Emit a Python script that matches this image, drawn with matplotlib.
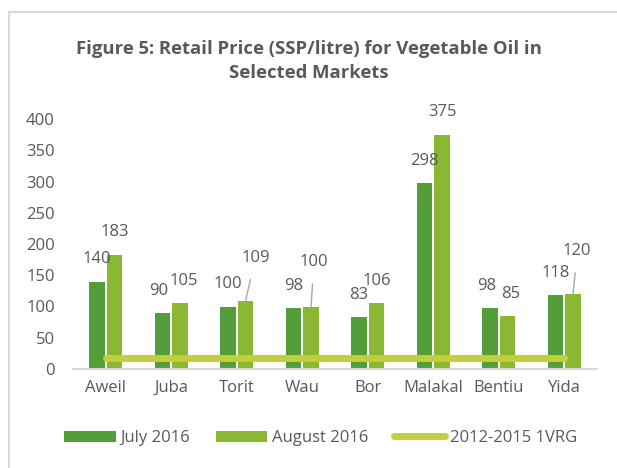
import numpy as np
import matplotlib.pyplot as plt
from matplotlib.patches import Rectangle

markets = ["Aweil", "Juba", "Torit", "Wau", "Bor", "Malakal", "Bentiu", "Yida"]
july_2016 = [140, 90, 100, 98, 83, 298, 98, 118]
august_2016 = [183, 105, 109, 100, 106, 375, 85, 120]
vrg_2012_2015 = [17, 17, 17, 17, 17, 17, 17, 17]
y_ticks = [0, 50, 100, 150, 200, 250, 300, 350, 400]

# label offsets in points (dx, dy); August ones with leader lines are marked
july_offsets = {1: (-3, 16), 6: (-2, 16)}
aug_offsets = {1: (3, 16), 6: (2, 16)}
aug_leaders = {2: (7, 31), 3: (2, 32), 7: (3, 31)}

GRAY = "#595959"
C_JULY = "#549E39"
C_AUG = "#8AB833"
C_VRG = "#C0CF3A"

plt.rcParams['font.family'] = ['Open Sans', 'DejaVu Sans']

fig = plt.figure(figsize=(6.17, 4.68), dpi=100)
ax = fig.add_axes([73 / 617, 1 - 369 / 468, 524 / 617, 250 / 468])

fig.patches.append(Rectangle((9 / 617, -0.1), 1.2, 1 - 12 / 468 + 0.1,
                             transform=fig.transFigure, fill=False,
                             edgecolor="#D9D9D9", linewidth=1.5))

x = np.arange(len(markets))
w = 0.235
off = 0.135
b1 = ax.bar(x - off, july_2016, w, color=C_JULY, label="July 2016", zorder=2)
b2 = ax.bar(x + off, august_2016, w, color=C_AUG, label="August 2016", zorder=2)
ax.plot(x, vrg_2012_2015, color=C_VRG, linewidth=5, solid_capstyle="round",
        label="2012-2015 1VRG", zorder=3)

lbl_size = 12
for i, v in enumerate(july_2016):
    ax.annotate(str(v), (x[i] - off, v), xytext=july_offsets.get(i, (0, 16)),
                textcoords="offset points", ha="center", va="center",
                fontsize=lbl_size, color=GRAY)
for i, v in enumerate(august_2016):
    if i in aug_leaders:
        ax.annotate(str(v), (x[i] + off, v), xytext=aug_leaders[i], textcoords="offset points",
                    ha="center", va="center", fontsize=lbl_size, color=GRAY,
                    arrowprops=dict(arrowstyle="-", color="#A6A6A6", lw=1,
                                    shrinkA=8, shrinkB=0))
    else:
        ax.annotate(str(v), (x[i] + off, v), xytext=aug_offsets.get(i, (0, 16)),
                    textcoords="offset points", ha="center", va="center",
                    fontsize=lbl_size, color=GRAY)

ax.set_xlim(-0.5, len(markets) - 0.5)
ax.set_ylim(0, 400)
ax.set_yticks(y_ticks)
ax.set_xticks(x)
ax.set_xticklabels(markets)
ax.tick_params(axis="both", length=0, labelsize=12, labelcolor=GRAY)
ax.tick_params(axis="x", pad=8)
ax.tick_params(axis="y", pad=13)
for s in ["top", "right", "left"]:
    ax.spines[s].set_visible(False)
ax.spines["bottom"].set_color("#D9D9D9")
ax.spines["bottom"].set_linewidth(1.5)

fig.text(0.5, 1 - 61 / 468, "Figure 5: Retail Price (SSP/litre) for Vegetable Oil in\nSelected Markets",
         ha="center", va="center", fontsize=13.3, fontweight="bold", color=GRAY,
         linespacing=1.45)

fig.legend(handles=[b1, b2, ax.lines[0]], loc="center", ncol=3,
           bbox_to_anchor=(0.52, 1 - 438 / 468), frameon=False, fontsize=12,
           labelcolor=GRAY, handlelength=3.1, handleheight=0.65,
           columnspacing=1.5, handletextpad=0.3)

fig.savefig("out.png", dpi=100)
